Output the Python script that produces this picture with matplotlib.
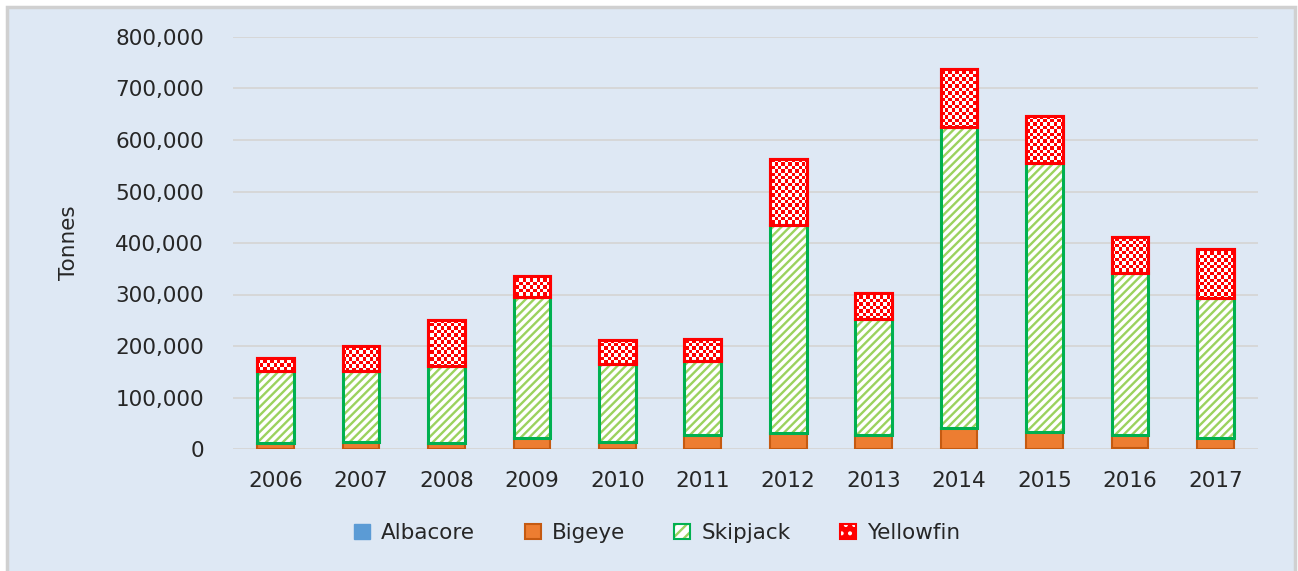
"""
Tuna catch by species, 2006-2017 (stacked bars).
"""

import numpy as np
import matplotlib

matplotlib.use("Agg")
import matplotlib.pyplot as plt
from matplotlib.colors import ListedColormap
from matplotlib.patches import Patch, Rectangle
from matplotlib.ticker import FuncFormatter

# values (tonnes)
years = ["2006", "2007", "2008", "2009", "2010", "2011",
         "2012", "2013", "2014", "2015", "2016", "2017"]
albacore = [0, 0, 0, 0, 0, 0, 0, 0, 0, 0, 2000, 0]
bigeye = [12000, 14000, 11000, 22000, 14000, 27000,
          32000, 27000, 40000, 33000, 25000, 21000]
skipjack = [139000, 138000, 151000, 273000, 151000, 143000,
            402000, 226000, 585000, 523000, 314000, 272000]
yellowfin = [26000, 48000, 88000, 40000, 47000, 44000,
             130000, 49000, 112000, 91000, 71000, 95000]

BG = "#DEE8F4"
GRID = "#D6D6D6"
TEXT = "#262626"
C_ALB = "#5B9BD5"
C_BIG = "#ED7D31"
C_BIG_EDGE = "#C55A11"
C_SKJ = "#9BD25F"
C_SKJ_EDGE = "#00B050"
C_YFT = "#FF0000"

plt.rcParams["font.family"] = ["DejaVu Sans"]
plt.rcParams["hatch.linewidth"] = 1.7

W, H = 1298, 571
fig = plt.figure(figsize=(W / 100, H / 100), dpi=100, facecolor="white")
fig.patches.append(
    Rectangle((7 / W, -0.02), 1288 / W, 1 - 7 / H + 0.02,
              transform=fig.transFigure, facecolor=BG,
              edgecolor="#D0D0D0", linewidth=2.5, zorder=-10)
)

ax = fig.add_axes([233 / W, 1 - 449 / H, 1025 / W, 412 / H])
ax.set_facecolor("none")

x = np.arange(len(years))
bw = 0.43
alb = np.array(albacore)
big = np.array(bigeye)
skj = np.array(skipjack)
yft = np.array(yellowfin)

ax.bar(x, alb, bw, color=C_ALB, zorder=3)
ax.bar(x, big, bw, bottom=alb, color=C_BIG, edgecolor=C_BIG_EDGE,
       linewidth=1.5, zorder=3)
# skipjack: light green stripes on white, dark green outline
ax.bar(x, skj, bw, bottom=alb + big, facecolor="white", edgecolor=C_SKJ,
       hatch="////", linewidth=0, zorder=3)
ax.bar(x, skj, bw, bottom=alb + big, fill=False, edgecolor=C_SKJ_EDGE,
       linewidth=2.2, zorder=4)

# yellowfin: red with white checkerboard, clipped to each bar
yb = ax.bar(x, yft, bw, bottom=alb + big + skj, color=C_YFT,
            edgecolor=C_YFT, linewidth=2.2, zorder=3)
ax.set_xlim(-0.5, len(years) - 0.5)
ax.set_ylim(0, 800000)
nx, ny = int(1025 / 3.4), int(412 / 3.4)
checker = (np.add.outer(np.arange(ny), np.arange(nx)) % 2).astype(float)
cmap = ListedColormap([(1, 0, 0, 0), (1, 1, 1, 1)])
for rect in yb:
    im = ax.imshow(checker, cmap=cmap,
                   extent=(-0.5, len(years) - 0.5, 0, 800000),
                   aspect="auto", interpolation="nearest", zorder=3.5)
    im.set_clip_path(rect)
for rect in yb:
    # redraw outline over the checker
    ax.add_patch(Rectangle(rect.get_xy(), rect.get_width(), rect.get_height(),
                           fill=False, edgecolor=C_YFT, linewidth=2.2, zorder=4))

ax.set_yticks(np.arange(0, 800001, 100000))
ax.yaxis.set_major_formatter(FuncFormatter(lambda v, p: f"{int(v):,}"))
ax.set_xticks(x)
ax.set_xticklabels(years)
ax.grid(axis="y", color=GRID, linewidth=1.3, zorder=0)
ax.set_axisbelow(True)
for s in ax.spines.values():
    s.set_visible(False)
ax.tick_params(axis="y", length=0, pad=21, labelsize=15.5, labelcolor=TEXT)
ax.tick_params(axis="x", length=0, pad=16, labelsize=15.5, labelcolor=TEXT)
ax.set_ylabel("Tonnes", fontsize=15.5, color=TEXT, labelpad=26)

handles = [
    Patch(facecolor=C_ALB, edgecolor=C_ALB),
    Patch(facecolor=C_BIG, edgecolor=C_BIG_EDGE, linewidth=1.5),
    (Patch(facecolor="white", edgecolor=C_SKJ, hatch="///", linewidth=0),
     Patch(fill=False, edgecolor=C_SKJ_EDGE, linewidth=1.5)),
    (Patch(facecolor=C_YFT, edgecolor="white", hatch="..", linewidth=0),
     Patch(fill=False, edgecolor=C_YFT, linewidth=1.5)),
]
fig.legend(handles, ["Albacore", "Bigeye", "Skipjack", "Yellowfin"],
           loc="center", bbox_to_anchor=(657 / W, 1 - 533 / H), ncol=4,
           frameon=False, fontsize=15.5, handlelength=0.75, handleheight=0.75,
           handletextpad=0.5, columnspacing=2.3, labelcolor=TEXT)

plt.savefig("out.png", dpi=100, facecolor="white")
